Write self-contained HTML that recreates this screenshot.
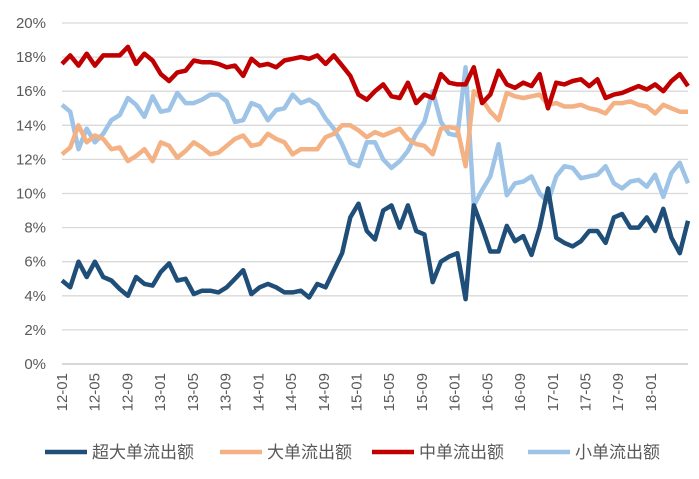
<!DOCTYPE html>
<html><head><meta charset="utf-8"><style>
body{margin:0;background:#fff;width:699px;height:474px;overflow:hidden;font-family:"Liberation Sans","Noto Sans CJK SC",sans-serif}
</style></head><body>
<svg id="s" width="699" height="474" xmlns="http://www.w3.org/2000/svg"></svg>
<script>
const s=document.getElementById('s');const NS='http://www.w3.org/2000/svg';
function el(t,a,txt){const e=document.createElementNS(NS,t);for(const k in a)e.setAttribute(k,a[k]);if(txt!==undefined)e.textContent=txt;s.appendChild(e);return e;}
const y0=364,ppp=34.1/2,x0=62,x1=688;
for(let i=0;i<=10;i++){const y=y0-i*2*ppp;
 if(i>0)el('line',{x1:x0,x2:x1,y1:y,y2:y,stroke:'#d9d9d9','stroke-width':1.3});
 el('text',{x:46,y:y+5,'text-anchor':'end','font-size':15,fill:'#595959'},(i*2)+'%');}
el('line',{x1:x0,x2:x1,y1:y0,y2:y0,stroke:'#bfbfbf','stroke-width':1.3});
const labs=['12-01','12-05','12-09','13-01','13-05','13-09','14-01','14-05','14-09','15-01','15-05','15-09','16-01','16-05','16-09','17-01','17-05','17-09','18-01'];
labs.forEach((l,i)=>{const x=x0+i*32.72;
 el('text',{x:0,y:0,transform:`translate(${x+5},${373}) rotate(-90)`,'text-anchor':'end','font-size':15,fill:'#595959'},l);});
const D={
lb:[15.2,14.8,12.6,13.8,13.0,13.5,14.3,14.6,15.6,15.2,14.5,15.7,14.8,14.9,15.9,15.3,15.3,15.5,15.8,15.8,15.4,14.2,14.3,15.3,15.1,14.3,14.9,15.0,15.8,15.3,15.5,15.2,14.4,13.8,12.9,11.8,11.6,13.0,13.0,12.0,11.5,11.9,12.5,13.5,14.2,16.0,14.2,13.5,13.4,17.4,9.3,10.2,11.0,12.9,9.9,10.6,10.7,11.0,10.0,9.5,11.0,11.6,11.5,10.9,11.0,11.1,11.6,10.6,10.3,10.7,10.8,10.4,11.1,9.8,11.2,11.8,10.6],
or:[12.3,12.7,14.0,13.0,13.4,13.2,12.6,12.7,11.9,12.2,12.6,11.9,13.0,12.8,12.1,12.5,13.0,12.7,12.3,12.4,12.8,13.2,13.4,12.8,12.9,13.5,13.2,13.0,12.3,12.6,12.6,12.6,13.3,13.5,14.0,14.0,13.7,13.3,13.6,13.4,13.6,13.8,13.2,12.9,12.8,12.3,13.8,13.9,13.8,11.6,16.0,15.5,14.8,14.3,15.9,15.7,15.6,15.7,15.8,15.2,15.3,15.1,15.1,15.2,15.0,14.9,14.7,15.3,15.3,15.4,15.2,15.1,14.7,15.2,15.0,14.8,14.8],
rd:[17.6,18.1,17.5,18.2,17.5,18.1,18.1,18.1,18.6,17.6,18.2,17.8,17.0,16.6,17.1,17.2,17.8,17.7,17.7,17.6,17.4,17.5,16.9,17.9,17.5,17.6,17.4,17.8,17.9,18.0,17.9,18.1,17.6,18.1,17.5,16.9,15.8,15.5,16.0,16.4,15.7,15.6,16.5,15.3,15.8,15.6,17.0,16.5,16.4,16.4,17.4,15.3,15.8,17.2,16.4,16.2,16.5,16.3,17.0,15.0,16.5,16.4,16.6,16.7,16.3,16.7,15.6,15.8,15.9,16.1,16.3,16.1,16.4,16.0,16.6,17.0,16.3],
db:[4.9,4.5,6.0,5.1,6.0,5.1,4.9,4.4,4.0,5.1,4.7,4.6,5.4,5.9,4.9,5.0,4.1,4.3,4.3,4.2,4.5,5.0,5.5,4.1,4.5,4.7,4.5,4.2,4.2,4.3,3.9,4.7,4.5,5.5,6.5,8.6,9.4,7.8,7.3,9.0,9.3,8.0,9.3,7.8,7.6,4.8,6.0,6.3,6.5,3.8,9.3,8.0,6.6,6.6,8.1,7.2,7.5,6.4,8.0,10.3,7.4,7.1,6.9,7.2,7.8,7.8,7.1,8.6,8.8,8.0,8.0,8.6,7.8,9.1,7.4,6.5,8.4]};
const C={db:'#1f4e79',or:'#f4b183',rd:'#c00000',lb:'#9dc3e6'};
['lb','or','rd','db'].forEach(k=>{const a=D[k],n=a.length;
 const pts=a.map((v,i)=>(x0+i*(x1-x0)/(n-1)).toFixed(1)+','+(y0-v*ppp).toFixed(1)).join(' ');
 el('polyline',{points:pts,fill:'none',stroke:C[k],'stroke-width':4.5,'stroke-linejoin':'round'});});
[['db',45,'超大单流出额'],['or',220,'大单流出额'],['rd',372,'中单流出额'],['lb',528,'小单流出额']].forEach(([k,x,t])=>{
 el('line',{x1:x,x2:x+42,y1:452,y2:452,stroke:C[k],'stroke-width':4.5});
 el('text',{x:x+47,y:458,'font-size':17,fill:'#595959'},t);});
</script>
</body></html>
